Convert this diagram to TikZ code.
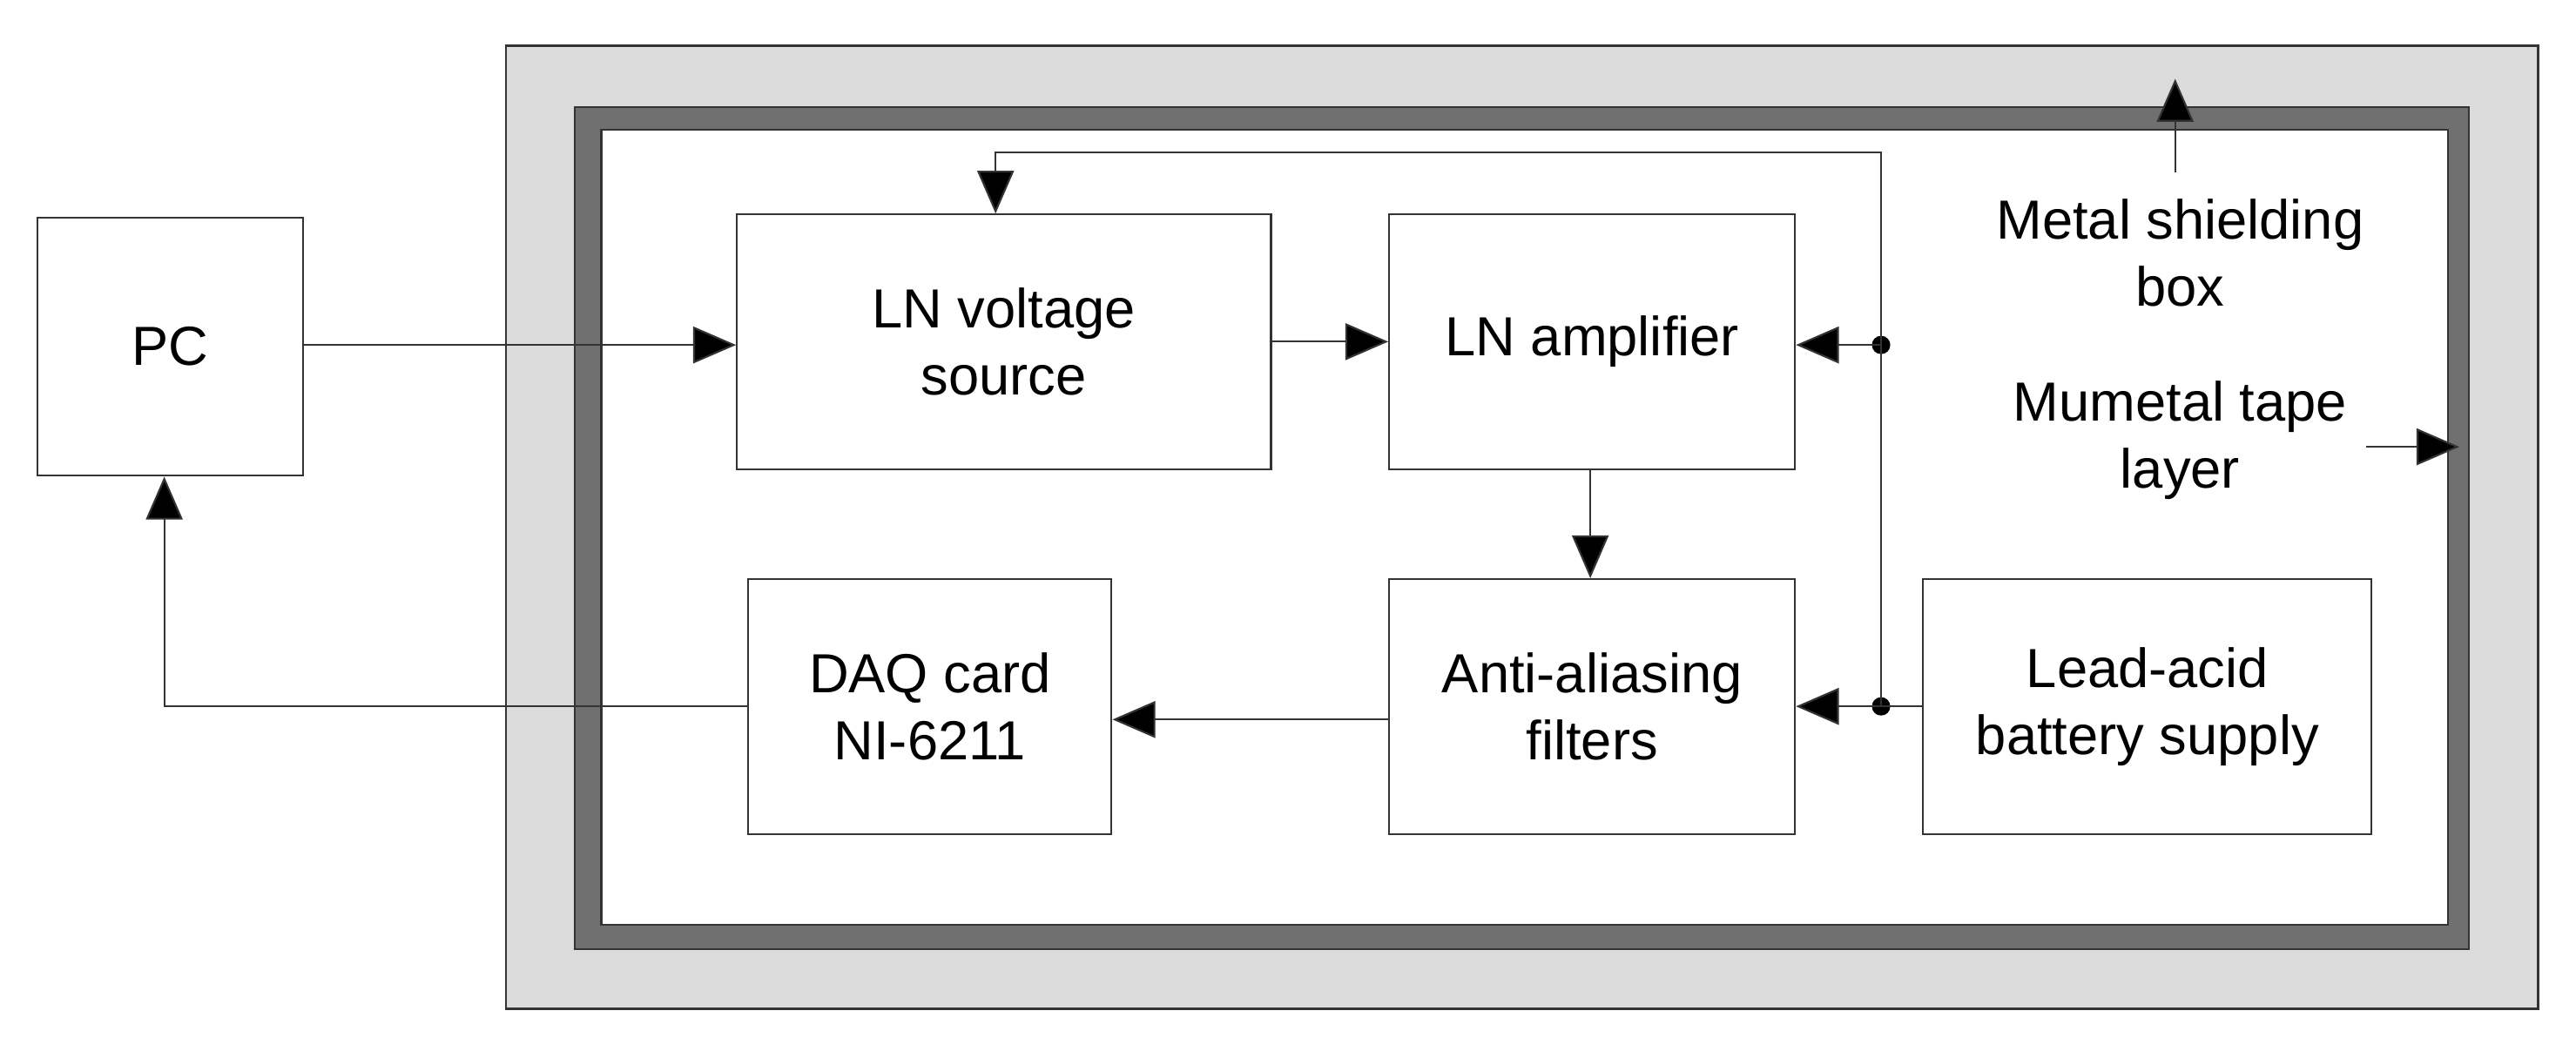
\documentclass[tikz,border=0pt]{standalone}
\usepackage{fontspec}
\setmainfont{Liberation Sans}
\usetikzlibrary{positioning,arrows.meta}

\begin{document}
\begin{tikzpicture}
		[x=0.018865cm, y=-0.018865cm,
		block/.style={draw=black!80, fill=white, line width=0.6pt, inner sep=0pt, align=center,
			font=\fontsize{18}{22}\selectfont},
		txt/.style={align=center, font=\fontsize{18}{22}\selectfont},
		wire/.style={draw=black!80, line width=0.6pt},
		sig/.style={wire, -{Triangle[length=14pt, width=12pt, fill=black]}},
		dot/.style={circle, fill=black, inner sep=0pt, minimum size=6pt}]
		\useasboundingbox (0,0) rectangle (1568,644);
		% shielding layers
		\draw[black!80, fill=black!14, line width=0.8pt] (308,28) rectangle (1545,614);
		\draw[black!80, fill=black!56, line width=0.6pt] (350,65) rectangle (1503,578);
		\draw[black!80, fill=white, line width=0.6pt] (366,79) rectangle (1490,563);

		\node[block, anchor=north west, minimum width=3.056cm, minimum height=2.962cm] (pc) at (22,132) {PC};
		\node[block, anchor=north west, minimum width=6.131cm, minimum height=2.924cm] (src) at (448,130) {LN voltage\\source};
		\node[block, anchor=north west, minimum width=4.660cm, minimum height=2.924cm] (amp) at (845,130) {LN amplifier};
		\node[block, anchor=north west, minimum width=4.660cm, minimum height=2.924cm] (aaf) at (845,352) {Anti-aliasing\\filters};
		\node[block, anchor=north west, minimum width=4.169cm, minimum height=2.924cm] (daq) at (455,352) {DAQ card\\NI-6211};
		\node[block, anchor=north west, minimum width=5.150cm, minimum height=2.924cm] (bat) at (1170,352) {Lead-acid\\battery supply};

		\node[txt] (metal) at (1327,154) {Metal shielding\\box};
		\node[txt] (mu) at (1327,268) {Mumetal tape\\layer};
		\coordinate (metaltip) at (1324,48);
		\coordinate (mutip) at (1497,272);
		\coordinate (j1) at (1145,210);
		\coordinate (j2) at (1145,430);
		\node[dot] at (j1) {};
		\node[dot] at (j2) {};

		\draw[sig] (pc.east |- 0,210) -- (src.west |- 0,210);
		\draw[sig] (src.east |- 0,208) -- (amp.west |- 0,208);
		\draw[sig] (amp.south -| 968,0) -- (aaf.north -| 968,0);
		\draw[sig] (aaf.west |- 0,438) -- (daq.east |- 0,438);
		\draw[sig] (daq.west |- 0,430) -| (pc.south -| 100,0);
		\draw[wire] (bat.west |- j2) -- (j2);
		\draw[sig] (j2) -- (aaf.east |- j2);
		\draw[sig] (j1) -- (amp.east |- j1);
		\draw[sig] (j2) -- (1145,93) -| (src.north -| 606,0);
		\draw[sig] (1324,105) -- (metaltip);
		\draw[sig] (1440,272) -- (mutip);
	\end{tikzpicture}
\end{document}
